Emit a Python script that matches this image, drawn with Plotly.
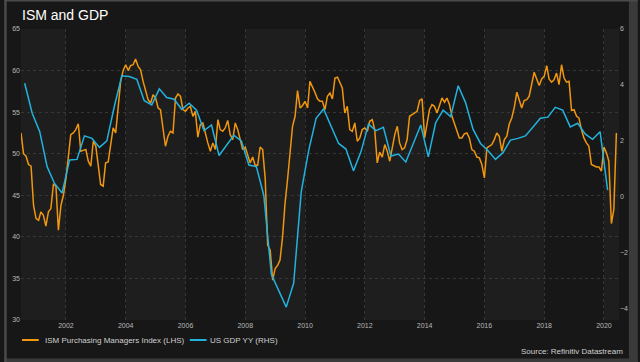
import pandas as pd
import plotly.graph_objects as go

# ---------------- data ----------------
ism_start = "2000-07-01"   # monthly, Jul 2000 .. Jun 2020
ism_2000 = [52.5, 50.0, 49.7, 48.7, 48.5, 43.8]
ism_2001 = [42.2, 42.0, 43.0, 42.6, 41.3, 43.0, 43.4, 46.3, 46.1, 40.8, 43.8, 45.0]
ism_2002 = [47.0, 49.8, 52.3, 52.5, 52.9, 53.6, 50.3, 50.4, 50.5, 49.1, 48.5, 51.5]
ism_2003 = [50.9, 48.5, 46.3, 46.1, 48.9, 49.0, 50.9, 53.1, 52.5, 55.7, 58.7, 60.0]
ism_2004 = [60.7, 60.0, 60.6, 60.7, 61.4, 60.5, 60.1, 58.7, 57.5, 56.5, 56.1, 57.1]
ism_2005 = [56.7, 55.5, 55.3, 53.1, 50.9, 52.1, 52.7, 52.5, 56.7, 57.2, 56.9, 55.3]
ism_2006 = [55.1, 55.5, 55.7, 54.5, 55.1, 52.0, 53.5, 53.7, 52.3, 51.3, 50.3, 51.3]
ism_2007 = [50.5, 54.1, 52.9, 52.7, 53.1, 54.0, 52.3, 51.7, 53.7, 52.9, 51.7, 50.5]
ism_2008 = [50.8, 49.7, 48.9, 49.6, 48.6, 48.6, 50.8, 50.5, 47.0, 39.0, 38.4, 34.8]
ism_2009 = [36.2, 36.6, 37.2, 40.0, 44.0, 46.9, 49.7, 53.3, 54.5, 57.6, 55.5, 55.8]
ism_2010 = [56.3, 55.5, 58.7, 58.1, 57.4, 56.6, 56.3, 56.3, 55.3, 56.9, 57.3, 56.6]
ism_2011 = [59.1, 59.2, 58.5, 57.9, 54.9, 55.7, 52.9, 52.7, 53.7, 51.5, 51.9, 52.9]
ism_2012 = [53.1, 52.7, 53.9, 54.1, 52.9, 48.9, 50.2, 49.6, 51.1, 50.3, 49.1, 50.5]
ism_2013 = [52.3, 53.3, 51.3, 50.5, 50.7, 51.7, 54.5, 54.7, 54.9, 55.1, 56.4, 56.6]
ism_2014 = [51.9, 53.9, 55.3, 55.9, 55.7, 54.9, 55.7, 56.7, 56.2, 56.7, 55.9, 54.5]
ism_2015 = [53.6, 52.8, 51.9, 51.9, 52.4, 52.5, 51.9, 50.5, 50.3, 49.6, 49.5, 48.7]
ism_2016 = [47.1, 50.7, 50.9, 51.1, 51.7, 52.5, 52.1, 50.3, 51.7, 52.1, 53.6, 54.3]
ism_2017 = [55.6, 57.4, 56.5, 55.5, 56.4, 56.5, 56.9, 58.6, 59.8, 59.0, 58.2, 59.0]
ism_2018 = [59.3, 60.6, 59.0, 58.6, 58.9, 59.7, 58.3, 60.7, 59.1, 58.6, 58.7, 55.2]
ism_2019 = [55.3, 54.5, 54.3, 52.9, 51.9, 51.3, 50.9, 48.7, 48.5, 48.4, 48.4, 47.9]
ism_2020 = [50.8, 50.1, 49.1, 41.6, 43.3, 52.5]

gdp_first_quarter = "2000Q3"   # quarterly YoY %, Q3 2000 .. Q1 2020
gdp_2000 = [4.06, 2.99]
gdp_2001 = [2.33, 1.08, 0.48, 0.14]
gdp_2002 = [1.32, 1.34, 2.18, 2.09]
gdp_2003 = [1.77, 2.00, 3.23, 4.33]
gdp_2004 = [4.30, 4.20, 3.44, 3.29]
gdp_2005 = [3.86, 3.55, 3.49, 3.13]
gdp_2006 = [3.35, 3.10, 2.37, 2.57]
gdp_2007 = [1.48, 1.85, 2.20, 2.00]
gdp_2008 = [1.14, 1.08, 0.05, -2.77]
gdp_2009 = [-3.34, -3.94, -3.08, 0.18]
gdp_2010 = [1.67, 2.81, 3.14, 2.50]
gdp_2011 = [1.91, 1.71, 0.93, 1.61]
gdp_2012 = [2.60, 2.37, 2.49, 1.46]
gdp_2013 = [1.53, 1.25, 1.91, 2.57]
gdp_2014 = [1.43, 2.65, 3.10, 2.87]
gdp_2015 = [3.97, 3.37, 2.42, 1.91]
gdp_2016 = [1.65, 1.34, 1.58, 2.03]
gdp_2017 = [2.09, 2.18, 2.49, 2.81]
gdp_2018 = [2.85, 3.20, 3.10, 2.50]
gdp_2019 = [2.63, 2.25, 2.06, 2.33]
gdp_2020 = [0.24]

left_ticks = [30, 35, 40, 45, 50, 55, 60, 65]
right_ticks = [-4, -2, 0, 2, 4, 6]
year_ticks = ["2002", "2004", "2006", "2008", "2010", "2012", "2014", "2016", "2018", "2020"]

title_text = "ISM and GDP"
ism_name = "ISM Purchasing Managers Index (LHS)"
gdp_name = "US GDP YY (RHS)"
source_text = "Source: Refinitiv Datastream"

# ---------------- build ----------------
ism_vals = (ism_2000 + ism_2001 + ism_2002 + ism_2003 + ism_2004 + ism_2005 + ism_2006 +
            ism_2007 + ism_2008 + ism_2009 + ism_2010 + ism_2011 + ism_2012 + ism_2013 +
            ism_2014 + ism_2015 + ism_2016 + ism_2017 + ism_2018 + ism_2019 + ism_2020)
ism_dates = pd.date_range(ism_start, periods=len(ism_vals), freq="MS")

gdp_vals = (gdp_2000 + gdp_2001 + gdp_2002 + gdp_2003 + gdp_2004 + gdp_2005 + gdp_2006 +
            gdp_2007 + gdp_2008 + gdp_2009 + gdp_2010 + gdp_2011 + gdp_2012 + gdp_2013 +
            gdp_2014 + gdp_2015 + gdp_2016 + gdp_2017 + gdp_2018 + gdp_2019 + gdp_2020)
gdp_q = pd.period_range(gdp_first_quarter, periods=len(gdp_vals), freq="Q")
gdp_dates = gdp_q.start_time + pd.Timedelta(days=45)

ORANGE = "#f0960f"
BLUE = "#22b2de"
PAPER = "#171717"
PLOT_LIGHT = "#1e1e1e"
PLOT_DARK = "#171717"
GRID = "#363636"
TICK = "#b8b8b8"
SANS = "Liberation Sans, Arial, sans-serif"

W, H = 640, 362
L, R, T, B = 16, 18, 29, 42
pw, ph = W - L - R, H - T - B


def px(x):
    return (x - L) / pw


def py(y):
    return (H - B - y) / ph


fig = go.Figure()
fig.add_trace(go.Scatter(x=ism_dates, y=ism_vals, name=ism_name, mode="lines",
                         line=dict(color=ORANGE, width=1.5), yaxis="y"))
fig.add_trace(go.Scatter(x=gdp_dates, y=gdp_vals, name=gdp_name, mode="lines",
                         line=dict(color=BLUE, width=1.5), yaxis="y2"))

shapes = []
# alternating darker bands every other two years
for y0 in range(2002, 2020, 4):
    shapes.append(dict(type="rect", xref="x", yref="paper", x0=f"{y0}-01-01", x1=f"{y0 + 2}-01-01",
                       y0=0, y1=1, fillcolor=PLOT_DARK, line=dict(width=0), layer="below"))
# custom legend line samples
shapes.append(dict(type="line", xref="paper", yref="paper", x0=px(17), x1=px(34), y0=py(340), y1=py(340),
                   line=dict(color=ORANGE, width=2)))
shapes.append(dict(type="line", xref="paper", yref="paper", x0=px(187), x1=px(204), y0=py(340), y1=py(340),
                   line=dict(color=BLUE, width=2)))
# window frame
shapes.append(dict(type="rect", xref="paper", yref="paper", x0=px(632), x1=px(641), y0=py(-1), y1=py(363),
                   fillcolor="#3a3a3a", line=dict(width=0)))
shapes.append(dict(type="rect", xref="paper", yref="paper", x0=px(-1), x1=px(641), y0=py(358.5), y1=py(363),
                   fillcolor="#3a3a3a", line=dict(width=0)))
shapes.append(dict(type="rect", xref="paper", yref="paper", x0=px(-1), x1=px(1.5), y0=py(-1), y1=py(363),
                   fillcolor="#4a4a4a", line=dict(width=0)))
shapes.append(dict(type="rect", xref="paper", yref="paper", x0=px(-1), x1=px(641), y0=py(1.5), y1=py(-1),
                   fillcolor="#4a4a4a", line=dict(width=0)))

annotations = [
    dict(text=title_text, xref="paper", yref="paper", x=px(15), y=py(15), xanchor="left", yanchor="middle",
         showarrow=False, font=dict(family=SANS, size=14, color="#ffffff")),
    dict(text=ism_name, xref="paper", yref="paper", x=px(38), y=py(340), xanchor="left", yanchor="middle",
         showarrow=False, font=dict(family=SANS, size=8, color="#d0d0d0")),
    dict(text=gdp_name, xref="paper", yref="paper", x=px(206), y=py(340), xanchor="left", yanchor="middle",
         showarrow=False, font=dict(family=SANS, size=8, color="#d0d0d0")),
    dict(text=source_text, xref="paper", yref="paper", x=px(628), y=py(351.5), xanchor="right", yanchor="middle",
         showarrow=False, font=dict(family=SANS, size=8, color="#d0d0d0")),
]

fig.update_layout(
    width=W, height=H,
    margin=dict(l=L, r=R, t=T, b=B, pad=0),
    paper_bgcolor=PAPER, plot_bgcolor=PLOT_LIGHT,
    showlegend=False,
    shapes=shapes, annotations=annotations,
    xaxis=dict(type="date", range=["2000-07-01", "2020-07-03"],
               tickvals=[f"{y}-01-01" for y in year_ticks], ticktext=year_ticks,
               showgrid=True, gridcolor=GRID, griddash="dot", gridwidth=1,
               zeroline=False, showline=False, ticks="",
               tickfont=dict(family=SANS, size=7, color=TICK)),
    yaxis=dict(range=[30, 65], tickvals=left_ticks, showgrid=True, gridcolor=GRID, griddash="dot",
               gridwidth=1, zeroline=False, showline=False, ticks="",
               tickfont=dict(family=SANS, size=7, color=TICK)),
    yaxis2=dict(range=[-4.4, 6.0], tickvals=right_ticks, overlaying="y", side="right",
                showgrid=False, zeroline=False, showline=False, ticks="",
                tickfont=dict(family=SANS, size=7, color=TICK)),
)

fig.write_html("out.html", config={"displayModeBar": False},
               post_script="document.body.style.margin='0';document.body.style.overflow='hidden';")
